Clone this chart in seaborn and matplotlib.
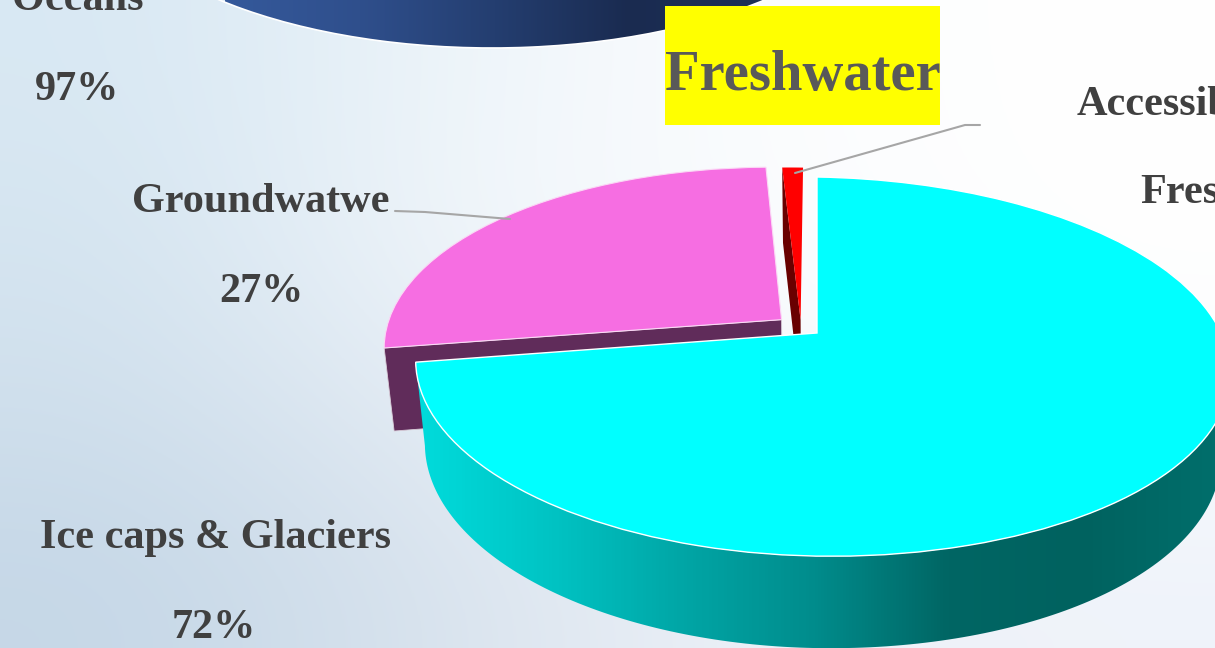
import numpy as np
import matplotlib
matplotlib.use("Agg")
import matplotlib.pyplot as plt
import matplotlib.patches as mpatches
import matplotlib.transforms as mtransforms
from matplotlib.path import Path
import seaborn as sns

# values
fresh_labels = ["Ice caps & Glaciers", "Groundwatwe", "Accessible Freshwater"]
fresh_values = [72, 27, 1]
fresh_colors = ["#00ffff", "#f66ee2", "#ff0000"]
fresh_explode = [0, 0.115, 0]
ocean_labels = ["Oceans", "Freshwater"]
ocean_values = [97, 3]

# picture layout
W, H = 1215, 648
CX, CY = 817, 333
TILT, RX, RY = 0.177, 395, 183.6
RIGHT_STRETCH, SKEW = 1.03, 0.016
DROP, SHRINK_X, STRETCH_Y = 82.4, 0.977, 1.043

sns.set_theme(style="white")
plt.rcParams["font.family"] = ["Liberation Serif", "DejaVu Serif"]


class Tilt(mtransforms.Transform):
    # flat unit pie -> picture pixels, with a bit of perspective
    input_dims = 2
    output_dims = 2

    def __init__(self, lower=False):
        super().__init__()
        self.lower = lower

    def transform_non_affine(self, xy):
        xy = np.asarray(xy, dtype=float)
        d = 1 + TILT * xy[:, 1]
        px = xy[:, 0] / d * RX
        px = np.where(px > 0, px * RIGHT_STRETCH, px)
        py = xy[:, 1] / d * RY - SKEW * px
        if self.lower:
            px = px * SHRINK_X
            py = py * STRETCH_Y - DROP
        return np.column_stack([CX + px, CY - py])


top = Tilt()
low = Tilt(lower=True)


def wall_path(pts):
    a = top.transform_non_affine(pts)
    b = low.transform_non_affine(pts[::-1])
    return Path(np.vstack([a, b, a[:1]]), closed=True)


def outer_wall(wedge, t1, t2):
    t = np.radians(np.linspace(t1, t2, 200))
    pts = np.column_stack([wedge.center[0] + np.cos(t), wedge.center[1] + np.sin(t)])
    return wall_path(pts)


def radial_wall(wedge, t):
    t = np.radians(t)
    c = np.array(wedge.center)
    pts = np.array([c, c + [np.cos(t), np.sin(t)]])
    return wall_path(pts)


fig, ax = plt.subplots(figsize=(W / 100, H / 100), dpi=100)
fig.subplots_adjust(0, 0, 1, 1)

# background
bg_colors = np.array([
    [[216, 232, 243], [238, 245, 250], [252, 253, 254], [255, 255, 255]],
    [[212, 228, 240], [243, 247, 251], [250, 252, 254], [255, 255, 255]],
    [[207, 223, 236], [230, 237, 245], [245, 248, 252], [251, 252, 254]],
    [[197, 215, 231], [218, 228, 238], [237, 241, 248], [239, 243, 250]],
]) / 255
ax.imshow(bg_colors, extent=(0, W, H, 0), aspect="auto", interpolation="bicubic", zorder=0)

# oceans pie, only its front wall is inside the picture
ocean_wedges, _ = ax.pie(ocean_values, colors=["none", "none"], startangle=90, counterclock=False)
ocean_tf = mtransforms.Affine2D().scale(400, -179).translate(492, -131) + ax.transData
ocean_wedges[0].set_transform(ocean_tf)
ocean_wedges[1].set_visible(False)
ocean_wedges[0].set(edgecolor="white", linewidth=1.2, zorder=3)
navy = sns.blend_palette(["#35599b", "#2f4f8c", "#243e70", "#1a2b50", "#1d3058"], as_cmap=True)
ocean_im = ax.imshow(np.linspace(0, 1, 256)[None, :], extent=(225, 765, 60, 0), aspect="auto",
                     cmap=navy, zorder=2)
ocean_im.set_clip_path(ocean_wedges[0])

# freshwater pie
wedges, _ = ax.pie(fresh_values, colors=fresh_colors, explode=fresh_explode, startangle=90,
                   counterclock=False)
cyan, pink, red = wedges
red.set_center((-0.042, 0.07))
for w in wedges:
    w.set_transform(top + ax.transData)
    w.set_edgecolor("none")
cyan.set(edgecolor="white", linewidth=1, zorder=8)
pink.set(edgecolor="#fbd8f5", linewidth=0.8, zorder=5)
red.set(zorder=5)

ax.add_patch(mpatches.PathPatch(radial_wall(pink, pink.theta2), fc="#602c5a", ec="#d9cdd8",
                                lw=0.6, zorder=4))
ax.add_patch(mpatches.PathPatch(radial_wall(red, red.theta2), fc="#690000", ec="none", zorder=4))

teal = sns.blend_palette(["#00dcdc", "#00c4c4", "#00a6a6", "#008c8c", "#006664", "#00625f", "#006e6b"],
                         as_cmap=True)
cyan_wall = mpatches.PathPatch(outer_wall(cyan, cyan.theta1, 20), fc="none", ec="none", zorder=7)
ax.add_patch(cyan_wall)
cyan_im = ax.imshow(np.linspace(0, 1, 256)[None, :], extent=(415, W, H, 330), aspect="auto",
                    cmap=teal, zorder=7)
cyan_im.set_clip_path(cyan_wall)

# leader lines
ax.plot([395, 425, 510], [211, 212, 219], color="#a6a6a6", lw=1.5, zorder=6)
ax.plot([980, 965, 795], [125, 125, 173], color="#a6a6a6", lw=1.5, zorder=6)

# Freshwater title
ax.add_patch(mpatches.Rectangle((665, 6), 275, 119, fc="#ffff00", ec="none", zorder=9))
ax.text(665, 90, "Freshwater", fontsize=40.8, fontweight="bold", color="#595959", zorder=10)

# labels
lab = dict(fontsize=30.4, fontweight="bold", color="#404040", zorder=10)
ax.text(12, 10, ocean_labels[0], **lab)
ax.text(35, 100, f"{ocean_values[0]}%", **lab)
ax.text(132, 212, fresh_labels[1], **lab)
ax.text(219, 302, f"{fresh_values[1]}%", **lab)
ax.text(40, 548, fresh_labels[0], **lab)
ax.text(172, 638, f"{fresh_values[0]}%", **lab)
first_word, second_word = fresh_labels[2].split()
ax.text(1077, 115, first_word, **lab)
ax.text(1140, 203, second_word, **lab)
ax.text(1213, 293, f"{fresh_values[2]}%", **lab)

ax.set_aspect("auto")
ax.set_xlim(0, W)
ax.set_ylim(H, 0)
ax.set_axis_off()
fig.savefig("out.png", dpi=100)
